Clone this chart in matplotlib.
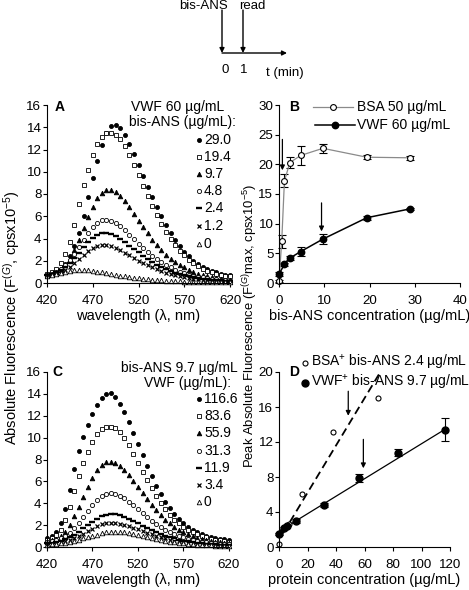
import numpy as np
import matplotlib
matplotlib.use('Agg')
import matplotlib.pyplot as plt

plt.rcParams['font.family'] = ['Liberation Sans', 'DejaVu Sans']
plt.rcParams['mathtext.fontset'] = 'custom'
plt.rcParams['mathtext.rm'] = 'Liberation Sans'
plt.rcParams['mathtext.it'] = 'Liberation Sans:italic'
plt.rcParams['font.size'] = 10

# emission spectra, read every 5 nm
wavelength = list(range(420, 621, 5))

# panel A: VWF 60 ug/mL, bis-ANS series
a_29_0 = [0.75, 0.85, 1.0, 1.3, 1.7, 2.4, 3.3, 4.5, 6.0, 7.7, 9.4, 11.0, 12.4, 13.5, 14.1, 14.2, 13.9, 13.3, 12.5, 11.6,
          10.6, 9.6, 8.6, 7.7, 6.8, 6.0, 5.2, 4.5, 3.9, 3.3, 2.8, 2.4, 2.0, 1.7, 1.45, 1.25, 1.1, 0.95, 0.85, 0.75, 0.68]
a_19_4 = [0.85, 1.0, 1.3, 1.8, 2.6, 3.7, 5.2, 7.1, 8.8, 10.2, 11.5, 12.5, 13.1, 13.45, 13.5, 13.3, 12.9, 12.3, 11.5, 10.6,
          9.7, 8.7, 7.8, 6.9, 6.1, 5.3, 4.6, 4.0, 3.4, 2.9, 2.5, 2.1, 1.8, 1.5, 1.3, 1.1, 0.95, 0.85, 0.75, 0.65, 0.6]
a_9_7 = [0.7, 0.8, 0.95, 1.2, 1.6, 2.2, 3.0, 3.9, 4.9, 5.9, 6.8, 7.6, 8.1, 8.35, 8.35, 8.15, 7.8, 7.35, 6.8, 6.2,
         5.6, 5.0, 4.45, 3.9, 3.4, 2.95, 2.55, 2.2, 1.9, 1.6, 1.4, 1.2, 1.0, 0.85, 0.72, 0.6, 0.5, 0.42, 0.36, 0.3, 0.26]
a_4_8 = [0.75, 0.85, 1.0, 1.25, 1.6, 2.05, 2.6, 3.2, 3.85, 4.45, 5.0, 5.4, 5.62, 5.68, 5.6, 5.4, 5.1, 4.75, 4.35, 3.95,
         3.55, 3.15, 2.8, 2.45, 2.15, 1.85, 1.6, 1.4, 1.2, 1.02, 0.88, 0.76, 0.66, 0.57, 0.5, 0.43, 0.37, 0.32, 0.28, 0.25, 0.22]
a_2_4 = [0.7, 0.8, 0.95, 1.15, 1.45, 1.8, 2.25, 2.7, 3.2, 3.65, 4.05, 4.35, 4.48, 4.48, 4.38, 4.2, 3.95, 3.65, 3.35, 3.05,
         2.75, 2.45, 2.15, 1.9, 1.65, 1.45, 1.25, 1.08, 0.93, 0.8, 0.69, 0.6, 0.52, 0.45, 0.39, 0.34, 0.3, 0.26, 0.23, 0.2, 0.18]
a_1_2 = [0.65, 0.72, 0.83, 0.98, 1.18, 1.45, 1.78, 2.12, 2.5, 2.85, 3.15, 3.35, 3.42, 3.4, 3.3, 3.15, 2.95, 2.72, 2.48, 2.25,
         2.02, 1.8, 1.6, 1.4, 1.23, 1.07, 0.93, 0.8, 0.69, 0.6, 0.52, 0.45, 0.39, 0.34, 0.3, 0.26, 0.23, 0.2, 0.18, 0.16, 0.14]
a_0 = [0.6, 0.7, 0.8, 0.9, 1.0, 1.08, 1.13, 1.16, 1.16, 1.13, 1.08, 1.02, 0.95, 0.88, 0.8, 0.73, 0.66, 0.59, 0.53, 0.47,
       0.42, 0.37, 0.33, 0.29, 0.26, 0.23, 0.2, 0.18, 0.16, 0.14, 0.13, 0.12, 0.11, 0.1, 0.09, 0.08, 0.08, 0.07, 0.07, 0.06, 0.06]
a_labels = ['29.0', '19.4', '9.7', '4.8', '2.4', '1.2', '0']

# panel C: bis-ANS 9.7 ug/mL, VWF series
c_116_6 = [0.8, 1.0, 1.4, 2.2, 3.5, 5.2, 7.1, 8.8, 10.1, 11.2, 12.2, 13.0, 13.6, 14.0, 14.05, 13.7, 13.1, 12.3, 11.4, 10.4,
           9.4, 8.4, 7.4, 6.5, 5.6, 4.85, 4.15, 3.55, 3.0, 2.55, 2.15, 1.8, 1.55, 1.35, 1.15, 1.0, 0.9, 0.82, 0.75, 0.7, 0.65]
c_83_6 = [0.65, 0.8, 1.1, 1.6, 2.5, 3.7, 5.1, 6.5, 7.7, 8.7, 9.6, 10.3, 10.75, 10.95, 11.0, 10.85, 10.5, 10.0, 9.3, 8.5,
          7.7, 6.9, 6.1, 5.35, 4.65, 4.0, 3.45, 2.95, 2.5, 2.15, 1.83, 1.57, 1.35, 1.15, 1.0, 0.87, 0.77, 0.68, 0.6, 0.54, 0.48]
c_55_9 = [0.5, 0.6, 0.75, 1.0, 1.4, 2.0, 2.8, 3.7, 4.6, 5.5, 6.3, 7.0, 7.5, 7.75, 7.8, 7.7, 7.45, 7.05, 6.55, 6.0,
          5.45, 4.9, 4.35, 3.85, 3.35, 2.9, 2.5, 2.15, 1.85, 1.58, 1.35, 1.15, 0.98, 0.84, 0.72, 0.62, 0.54, 0.47, 0.42, 0.37, 0.33]
c_31_3 = [0.45, 0.52, 0.62, 0.78, 1.0, 1.3, 1.7, 2.2, 2.75, 3.3, 3.85, 4.3, 4.65, 4.85, 4.9, 4.85, 4.7, 4.45, 4.15, 3.8,
          3.45, 3.1, 2.75, 2.42, 2.12, 1.85, 1.6, 1.38, 1.2, 1.03, 0.89, 0.77, 0.67, 0.58, 0.5, 0.44, 0.38, 0.34, 0.3, 0.27, 0.24]
c_11_9 = [0.35, 0.4, 0.48, 0.58, 0.72, 0.9, 1.12, 1.4, 1.7, 2.0, 2.3, 2.6, 2.82, 2.95, 3.0, 2.98, 2.9, 2.77, 2.6, 2.4,
          2.18, 1.96, 1.75, 1.55, 1.36, 1.19, 1.04, 0.9, 0.78, 0.68, 0.59, 0.51, 0.45, 0.39, 0.34, 0.3, 0.27, 0.24, 0.21, 0.19, 0.17]
c_3_4 = [0.28, 0.32, 0.37, 0.44, 0.54, 0.67, 0.83, 1.02, 1.23, 1.45, 1.68, 1.9, 2.06, 2.16, 2.2, 2.19, 2.13, 2.04, 1.92, 1.78,
         1.62, 1.46, 1.3, 1.15, 1.01, 0.89, 0.78, 0.68, 0.59, 0.51, 0.45, 0.39, 0.34, 0.3, 0.26, 0.23, 0.2, 0.18, 0.16, 0.14, 0.13]
c_0 = [0.22, 0.25, 0.29, 0.34, 0.4, 0.48, 0.57, 0.67, 0.78, 0.9, 1.02, 1.14, 1.25, 1.33, 1.38, 1.4, 1.39, 1.35, 1.29, 1.21,
       1.12, 1.02, 0.92, 0.82, 0.73, 0.64, 0.56, 0.49, 0.43, 0.38, 0.33, 0.29, 0.25, 0.22, 0.19, 0.17, 0.15, 0.13, 0.12, 0.11, 0.1]
c_labels = ['116.6', '83.6', '55.9', '31.3', '11.9', '3.4', '0']

# panel B: peak vs bis-ANS concentration
b_bsa_x = [0, 0.6, 1.2, 2.4, 4.8, 9.7, 19.4, 29.0]
b_bsa_y = [0.3, 7.0, 17.2, 20.3, 21.5, 22.7, 21.2, 21.1]
b_bsa_err = [0.2, 1.1, 1.1, 1.0, 1.6, 0.8, 0.3, 0.3]
b_vwf_x = [0, 1.2, 2.4, 4.8, 9.7, 19.4, 29.0]
b_vwf_y = [1.5, 3.15, 4.2, 5.3, 7.4, 11.0, 12.5]
b_vwf_err = [0.3, 0.3, 0.4, 0.8, 0.8, 0.3, 0.2]

# panel D: peak vs protein concentration
d_vwf_x = [0, 3.4, 5.6, 11.9, 31.3, 55.9, 83.6, 116.6]
d_vwf_y = [1.5, 2.2, 2.45, 3.0, 4.8, 7.9, 10.8, 13.4]
d_vwf_err = [0.15, 0.1, 0.1, 0.2, 0.2, 0.5, 0.35, 1.3]
d_bsa_x = [0, 7.0, 16.4, 37.9, 69.5]
d_bsa_y = [0.4, 2.65, 6.1, 13.2, 17.0]
d_vwf_fit = (0.1, 1.8)     # slope, intercept
d_bsa_fit = (0.27, 0.8)
d_vwf_fit_range = (0, 116.6)
d_bsa_fit_range = (3, 71)

# marker styles for the spectra (same order as labels)
styles = [dict(marker='o', ms=2.9, mfc='k'),
          dict(marker='s', ms=2.9, mfc='white'),
          dict(marker='^', ms=3.3, mfc='k'),
          dict(marker='o', ms=3.0, mfc='white'),
          dict(marker='_', ms=4.5, mew=1.7),
          dict(marker='x', ms=2.8, mew=0.9),
          dict(marker='^', ms=3.3, mfc='white')]

W, H = 469, 590
fig = plt.figure(figsize=(W / 100, H / 100), dpi=100)


def make_ax(left, top, right, bottom):
    ax = fig.add_axes([left / W, 1 - bottom / H, (right - left) / W, (bottom - top) / H])
    for s in ['top', 'right']:
        ax.spines[s].set_visible(False)
    for s in ['left', 'bottom']:
        ax.spines[s].set_linewidth(0.8)
    ax.tick_params(axis='both', direction='out', length=3, width=0.8, labelsize=9.6)
    ax.tick_params(axis='y', pad=1)
    ax.tick_params(axis='x', pad=6)
    return ax


axA = make_ax(47, 105, 230, 283)
axB = make_ax(279, 105, 460, 283)
axC = make_ax(47, 372, 229, 547)
axD = make_ax(279, 372, 450, 547)

for ax, series in [(axA, [a_29_0, a_19_4, a_9_7, a_4_8, a_2_4, a_1_2, a_0]),
                   (axC, [c_116_6, c_83_6, c_55_9, c_31_3, c_11_9, c_3_4, c_0])]:
    for y, st in zip(series, styles):
        ax.plot(wavelength, y, ls='none', color='k', mec='k', mew=st.get('mew', 0.6),
                marker=st['marker'], ms=st['ms'], mfc=st.get('mfc', 'k'), clip_on=False)
    ax.set_xlim(420, 620)
    ax.set_ylim(0, 16)
    ax.set_xticks(range(420, 621, 50))
    ax.set_yticks(range(0, 17, 2))
    ax.set_xlabel('wavelength (λ, nm)', fontsize=10.5, labelpad=1)

# panel B
axB.errorbar(b_bsa_x, b_bsa_y, yerr=b_bsa_err, color='#8a8a8a', lw=0.9, ecolor='k', elinewidth=0.8,
             capsize=3, capthick=0.8, marker='o', ms=4.2, mfc='white', mec='k', mew=0.8, clip_on=False)
axB.errorbar(b_vwf_x, b_vwf_y, yerr=b_vwf_err, color='k', lw=1.1, ecolor='k', elinewidth=0.8,
             capsize=3, capthick=0.8, marker='o', ms=4.6, mfc='k', mec='k', clip_on=False)
axB.set_xlim(0, 40)
axB.set_ylim(0, 30)
axB.set_xticks(range(0, 41, 10))
axB.set_yticks(range(0, 31, 5))
axB.set_xlabel('bis-ANS concentration (µg/mL)', fontsize=10.5, labelpad=1)
arw = dict(arrowstyle='-|>', color='k', lw=0.9, mutation_scale=7, shrinkA=0, shrinkB=0)
axB.annotate('', xy=(0.75, 19.0), xytext=(0.75, 24.2), arrowprops=arw)
axB.annotate('', xy=(9.4, 8.7), xytext=(9.4, 13.5), arrowprops=arw)

# panel D
xf = np.array(d_vwf_fit_range)
axD.plot(xf, d_vwf_fit[0] * xf + d_vwf_fit[1], color='k', lw=0.9)
xb = np.array(d_bsa_fit_range)
axD.plot(xb, d_bsa_fit[0] * xb + d_bsa_fit[1], color='k', lw=1.3, ls=(0, (4.5, 2.5)))
axD.errorbar(d_vwf_x, d_vwf_y, yerr=d_vwf_err, ls='none', ecolor='k', elinewidth=0.8, capsize=3,
             capthick=0.8, marker='o', ms=5, mfc='k', mec='k', clip_on=False)
axD.plot(d_bsa_x, d_bsa_y, ls='none', marker='o', ms=3.6, mfc='white', mec='k', mew=0.8, clip_on=False)
axD.set_xlim(0, 120)
axD.set_ylim(0, 20)
axD.set_xticks(range(0, 121, 20))
axD.set_yticks(range(0, 21, 4))
axD.set_xlabel('protein concentration (µg/mL)', fontsize=10.5, labelpad=1)
axD.annotate('', xy=(48.6, 15.0), xytext=(48.6, 17.8), arrowprops=arw)
axD.annotate('', xy=(59.2, 9.0), xytext=(59.2, 12.3), arrowprops=arw)

# overlay in pixel coordinates for labels, legends and the timeline
ov = fig.add_axes([0, 0, 1, 1], zorder=10)
ov.set_xlim(0, W)
ov.set_ylim(H, 0)
ov.axis('off')
ov.patch.set_alpha(0)

# timeline sketch
tl = dict(arrowstyle='-|>', color='k', lw=1.0, mutation_scale=7, shrinkA=0, shrinkB=0)
ov.annotate('', xy=(222, 53), xytext=(222, 10), arrowprops=tl)
ov.annotate('', xy=(243, 53), xytext=(243, 10), arrowprops=tl)
ov.annotate('', xy=(287, 53), xytext=(222, 53), arrowprops=tl)
ov.text(204, 6, 'bis-ANS', ha='center', va='center', fontsize=9.5)
ov.text(252, 6, 'read', ha='center', va='center', fontsize=9.5)
ov.text(225, 70, '0', ha='center', va='center', fontsize=9.5)
ov.text(244, 70, '1', ha='center', va='center', fontsize=9.5)
ov.text(285, 73, 't (min)', ha='center', va='center', fontsize=9.5)

# panel letters
for letter, (x, y) in zip('ABCD', [(60, 107), (294, 107), (57, 372), (294, 372)]):
    ov.text(x, y, letter, ha='center', va='center', fontsize=10, fontweight='bold')

# y labels
ov.text(12, 318, 'Absolute Fluorescence (F$^{(G)}$, cpsx10$^{-5}$)', rotation=90,
        ha='center', va='center', fontsize=10.5)
ov.text(250, 326, 'Peak Absolute Fluorescence (F$^{(G)}$max, cpsx10$^{-5}$)', rotation=90,
        ha='center', va='center', fontsize=9.4)

# legends for A and C
ov.text(178, 107, 'VWF 60 µg/mL', ha='center', va='center')
ov.text(182, 122, 'bis-ANS (µg/mL):', ha='center', va='center')
ov.text(179, 368, 'bis-ANS 9.7 µg/mL', ha='center', va='center')
ov.text(187, 383, 'VWF (µg/mL):', ha='center', va='center')
for labels, ys in [(a_labels, [140, 157, 174, 191, 208, 226, 244]),
                   (c_labels, [399, 416, 433, 451, 468, 485, 502])]:
    for lab, y, st in zip(labels, ys, styles):
        ov.plot([199], [y], ls='none', color='k', mec='k', mew=st.get('mew', 0.6),
                marker=st['marker'], ms=st['ms'], mfc=st.get('mfc', 'k'))
        ov.text(204, y, lab, ha='left', va='center')

# legend for B
ov.plot([313, 353], [107, 107], color='#8a8a8a', lw=0.9)
ov.plot([333], [107], marker='o', ms=4.2, mfc='white', mec='k', mew=0.8)
ov.text(357, 107, 'BSA 50 µg/mL', ha='left', va='center')
ov.plot([315, 355], [125, 125], color='k', lw=1.1)
ov.plot([335], [125], marker='o', ms=4.6, mfc='k', mec='k')
ov.text(357, 125, 'VWF 60 µg/mL', ha='left', va='center')

# legend for D
ov.plot([305], [363], marker='o', ms=3.6, mfc='white', mec='k', mew=0.8)
ov.text(311, 363, 'BSA$^{+}$ bis-ANS 2.4 µg/mL', ha='left', va='center')
ov.plot([305], [383], marker='o', ms=5, mfc='k', mec='k')
ov.text(311, 383, 'VWF$^{+}$ bis-ANS 9.7 µg/mL', ha='left', va='center')

fig.savefig('out.png', dpi=100)
